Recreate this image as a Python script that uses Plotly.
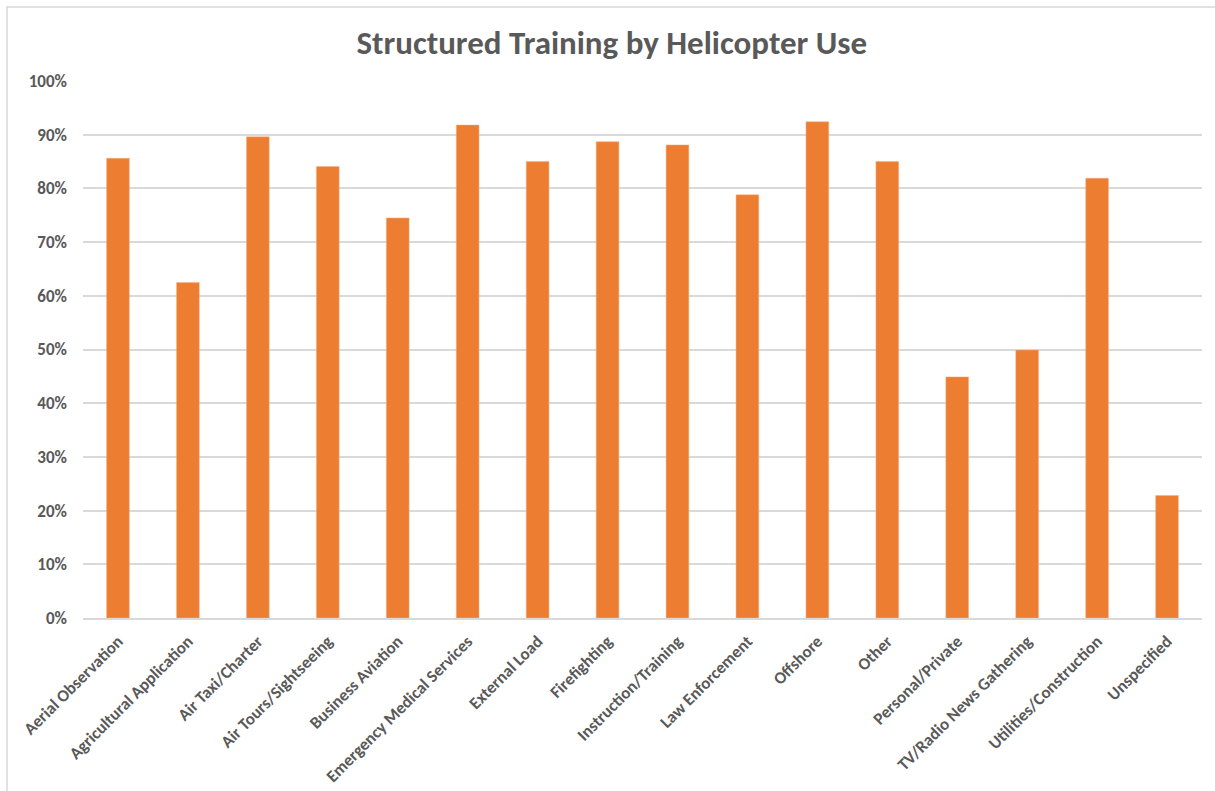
import plotly.graph_objects as go

categories = [
    "Aerial Observation", "Agricultural Application", "Air Taxi/Charter",
    "Air Tours/Sightseeing", "Business Aviation", "Emergency Medical Services",
    "External Load", "Firefighting", "Instruction/Training", "Law Enforcement",
    "Offshore", "Other", "Personal/Private", "TV/Radio News Gathering",
    "Utilities/Construction", "Unspecified",
]
values = [0.856, 0.625, 0.896, 0.841, 0.745, 0.918, 0.850, 0.887, 0.881,
          0.788, 0.924, 0.850, 0.449, 0.499, 0.819, 0.228]
y_ticks = [0, 0.1, 0.2, 0.3, 0.4, 0.5, 0.6, 0.7, 0.8, 0.9, 1.0]

FONT = "Carlito, Lato, sans-serif"
TXT = "#595959"
GRID = "#D9D9D9"

fig = go.Figure(go.Bar(
    x=categories, y=values,
    marker=dict(color="#ED7D31", line=dict(color="#F4B183", width=0.5)),
    hoverinfo="x+y",
))

W, H = 1215, 791
L, R, T, B = 83, 13, 81, 173
pw, ph = W - L - R, H - T - B

def px2paper_x(px):
    return (px - L) / pw

def py2paper_y(py):
    return (H - B - py) / ph

fig.update_layout(
    width=W, height=H,
    margin=dict(l=L, r=R, t=T, b=B, autoexpand=False),
    paper_bgcolor="white", plot_bgcolor="white",
    bargap=0.675,
    showlegend=False,
    title=dict(text="<b>Structured Training by Helicopter Use</b>",
               x=0.5035, xanchor="center", y=1 - 42 / H, yanchor="middle",
               font=dict(family=FONT, size=33, color=TXT)),
    font=dict(family=FONT, color=TXT),
    xaxis=dict(
        tickangle=-45, showgrid=False, showline=True, linecolor=GRID,
        linewidth=1.5, ticks="", ticklabelstandoff=5,
        tickfont=dict(family=FONT, size=17, color=TXT, weight="bold"),
    ),
    yaxis=dict(
        range=[0, 1.0], tickvals=y_ticks, tickformat=".0%",
        showgrid=True, gridcolor=GRID, gridwidth=1.5, zeroline=False,
        showline=False, ticks="", ticklabelstandoff=15,
        tickfont=dict(family=FONT, size=17, color=TXT, weight="bold"),
    ),
    shapes=[dict(
        type="rect", xref="paper", yref="paper",
        x0=px2paper_x(7), x1=px2paper_x(1240),
        y0=py2paper_y(820), y1=py2paper_y(7),
        line=dict(color=GRID, width=1.5), layer="below",
    )],
)

fig.write_html(
    "out.html",
    config={"displayModeBar": False},
    post_script="document.body.style.margin='0px';document.body.style.overflow='hidden';",
)
